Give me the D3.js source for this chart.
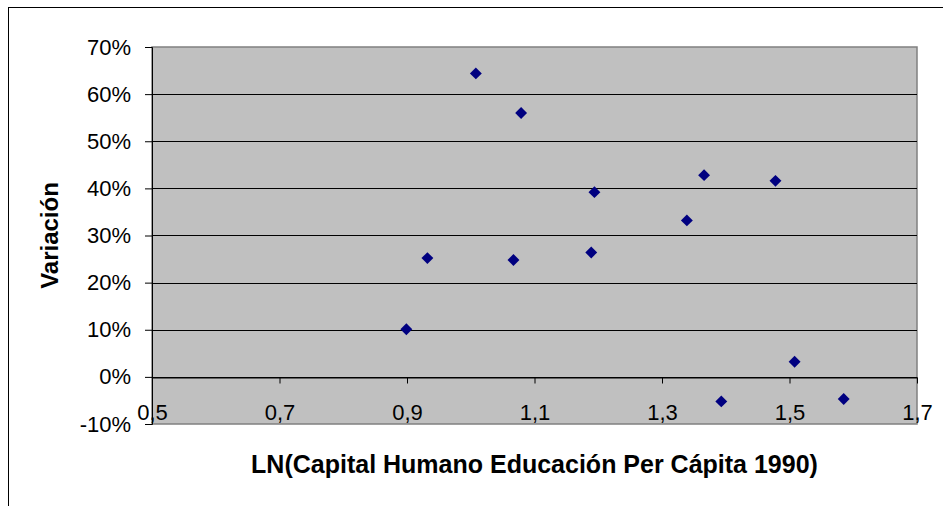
<!DOCTYPE html>
<html>
<head>
<meta charset="utf-8">
<script src="https://cdn.jsdelivr.net/npm/d3@7"></script>
<style>
  body { margin: 0; background: #fff; }
  text { font-family: Arial, "Liberation Sans", sans-serif; fill: #000; }
</style>
</head>
<body>
<div class="chart"></div>
<script>
// LN(capital humano) vs variación
const xValues = [0.899, 0.932, 1.008, 1.079, 1.067, 1.194, 1.189, 1.339, 1.366, 1.393, 1.478, 1.508, 1.585];
const yValues = [0.101, 0.252, 0.644, 0.560, 0.248, 0.392, 0.264, 0.332, 0.428, -0.052, 0.416, 0.032, -0.047];
const xTicks = [0.5, 0.7, 0.9, 1.1, 1.3, 1.5, 1.7];
const yTicks = [-0.1, 0, 0.1, 0.2, 0.3, 0.4, 0.5, 0.6, 0.7];

const W = 943, H = 506;
const plot = ({left: 152, top: 47, right: 917, bottom: 424});

const svg = d3.select(".chart").append("svg")
  .attr("width", W)
  .attr("height", H);

// outer chart border
svg.append("rect")
  .attr("x", 8.5).attr("y", 7.5)
  .attr("width", W + 10).attr("height", H + 10)
  .attr("fill", "none")
  .attr("stroke", "#000");

const xScale = d3.scaleLinear().domain([0.5, 1.7]).range([plot.left, plot.right]);
const yScale = d3.scaleLinear().domain([-0.1, 0.7]).range([plot.bottom, plot.top]);

svg.append("rect")
  .attr("x", plot.left).attr("y", plot.top)
  .attr("width", plot.right - plot.left)
  .attr("height", plot.bottom - plot.top)
  .attr("fill", "#c0c0c0")
  .attr("stroke", "#808080")
  .attr("stroke-width", 1.5);

// gridlines
svg.append("g")
  .selectAll("line")
  .data(yTicks.filter(d => d > -0.1 && d < 0.7))
  .join("line")
  .attr("x1", plot.left).attr("x2", plot.right)
  .attr("y1", d => Math.round(yScale(d)) + 0.5)
  .attr("y2", d => Math.round(yScale(d)) + 0.5)
  .attr("stroke", "#000");

// y axis
const yAxis = d3.axisLeft(yScale)
  .tickValues(yTicks)
  .tickSize(7)
  .tickPadding(14)
  .tickFormat(d => Math.round(d * 100) + "%");

svg.append("g")
  .attr("transform", "translate(" + plot.left + ",0)")
  .call(yAxis)
  .call(g => g.select(".domain").attr("stroke", "#000"))
  .call(g => g.selectAll(".tick line").attr("stroke", "#000"))
  .call(g => g.selectAll("text").attr("font-size", 22).attr("font-family", "Arial, 'Liberation Sans', sans-serif"));

// x axis at y = 0
const xAxis = d3.axisBottom(xScale)
  .tickValues(xTicks)
  .tickSize(6)
  .tickSizeOuter(0)
  .tickFormat(d => d.toFixed(1).replace(".", ","));

svg.append("g")
  .attr("transform", "translate(0," + (Math.round(yScale(0)) + 0.5) + ")")
  .call(xAxis)
  .call(g => g.select(".domain").attr("stroke", "#000"))
  .call(g => g.selectAll(".tick line").attr("stroke", "#000"))
  .call(g => g.selectAll("text")
    .attr("font-size", 22)
    .attr("font-family", "Arial, 'Liberation Sans', sans-serif")
    .attr("y", 42).attr("dy", 0));

// markers
const diamond = d3.symbol().type(d3.symbolDiamond2).size(90);
svg.append("g")
  .selectAll("path")
  .data(xValues.map((x, i) => ({x: x, y: yValues[i]})))
  .join("path")
  .attr("d", diamond)
  .attr("transform", d => "translate(" + xScale(d.x) + "," + yScale(d.y) + ")")
  .attr("fill", "#000080");

// axis titles
svg.append("text")
  .attr("x", (plot.left + plot.right) / 2)
  .attr("y", 473)
  .attr("text-anchor", "middle")
  .attr("font-size", 25)
  .attr("font-weight", "bold")
  .text("LN(Capital Humano Educación Per Cápita 1990)");

svg.append("text")
  .attr("transform", "translate(58," + (plot.top + plot.bottom) / 2 + ") rotate(-90)")
  .attr("text-anchor", "middle")
  .attr("font-size", 24)
  .attr("font-weight", "bold")
  .text("Variación");
</script>
</body>
</html>
